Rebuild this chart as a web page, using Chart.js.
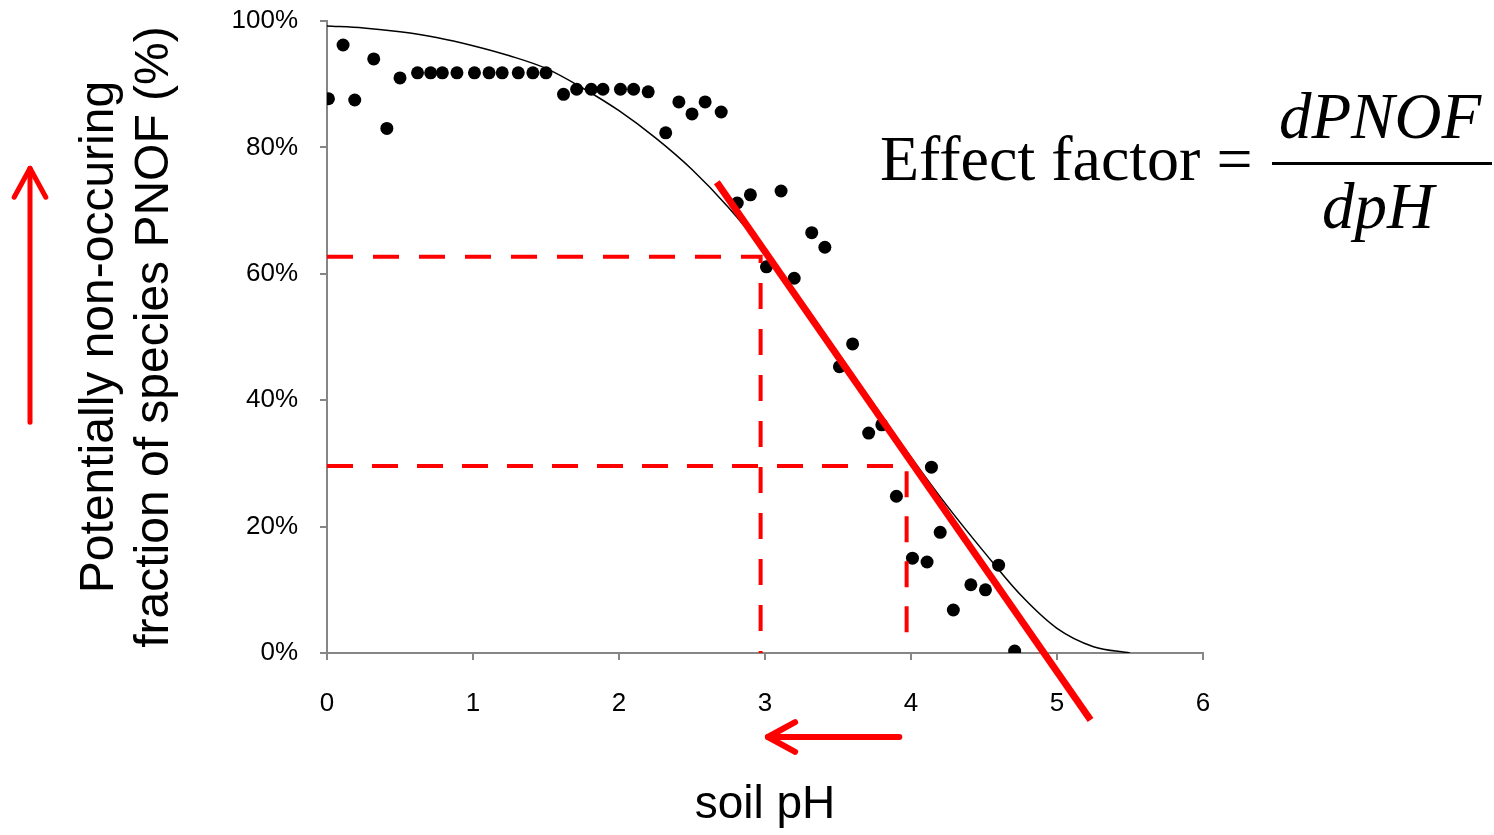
<!DOCTYPE html>
<html lang="en">
<head>
  <meta charset="UTF-8" />
  <script src="https://cdn.jsdelivr.net/npm/chart.js"></script>
  <title>PNOF vs soil pH</title>
  <style>
    html, body { margin: 0; padding: 0; background: #fff; }
  </style>
</head>
<body>
  <canvas id="grafico" width="1494" height="835"></canvas>
  <script>
    // observed points: soil pH vs PNOF (%)
    const obsPH = [0.01, 0.11, 0.19, 0.32, 0.41, 0.50, 0.62, 0.71, 0.79, 0.89, 1.01, 1.11, 1.20, 1.31, 1.41, 1.50,
      1.62, 1.71, 1.81, 1.89, 2.01, 2.10, 2.20, 2.32, 2.41, 2.50, 2.59, 2.70,
      2.81, 2.90, 3.01, 3.11, 3.20, 3.32, 3.41, 3.51, 3.60, 3.71, 3.80, 3.90, 4.01, 4.11, 4.14, 4.20, 4.29, 4.41, 4.51, 4.60, 4.71];
    const obsPNOF = [87.7, 96.2, 87.5, 94.0, 83.0, 91.0, 91.8, 91.8, 91.8, 91.8, 91.8, 91.8, 91.8, 91.8, 91.8, 91.8,
      88.4, 89.2, 89.2, 89.2, 89.2, 89.2, 88.8, 82.3, 87.2, 85.3, 87.2, 85.6,
      71.2, 72.5, 61.1, 73.1, 59.3, 66.5, 64.2, 45.3, 48.9, 34.8, 36.1, 24.8, 15.0, 14.4, 29.4, 19.1, 6.8, 10.8, 10.0, 13.9, 0.3];

    // fitted curve
    const fitPH = [0, 0.25, 0.5, 0.75, 1.0, 1.25, 1.5, 1.75, 2.0, 2.25, 2.5, 2.75, 3.0, 3.25, 3.5, 3.75, 4.0, 4.25, 4.5, 4.75, 5.0, 5.25, 5.5];
    const fitPNOF = [99.2, 98.9, 98.3, 97.4, 96.1, 94.5, 92.5, 89.4, 85.8, 81.5, 76.5, 70.5, 63.5, 55.8, 47.5, 39.2, 31.0, 23.2, 16.0, 9.2, 3.9, 1.0, 0.0];

    // tangent (effect factor)
    const slopePH = [2.67, 5.23];
    const slopePNOF = [74.5, -10.6];

    // dashed guides
    const guidePH = [2.97, 3.97];
    const guidePNOF = [62.7, 29.6];

    const gris = '#868686';
    const rojo = '#ff0000';

    function puntos(xs, ys) {
      return xs.map((x, i) => ({ x: x, y: ys[i] }));
    }

    function flecha(ctx, x1, y1, x2, y2, ancho, brazo) {
      const ang = Math.atan2(y2 - y1, x2 - x1);
      ctx.save();
      ctx.strokeStyle = rojo;
      ctx.lineWidth = ancho;
      ctx.lineCap = 'round';
      ctx.lineJoin = 'round';
      ctx.beginPath();
      ctx.moveTo(x1, y1);
      ctx.lineTo(x2, y2);
      ctx.stroke();
      ctx.beginPath();
      ctx.moveTo(x2 - brazo * Math.cos(ang - 0.5), y2 - brazo * Math.sin(ang - 0.5));
      ctx.lineTo(x2, y2);
      ctx.lineTo(x2 - brazo * Math.cos(ang + 0.5), y2 - brazo * Math.sin(ang + 0.5));
      ctx.stroke();
      ctx.restore();
    }

    const extras = {
      id: 'extras',
      afterDraw(chart) {
        const ctx = chart.ctx;
        const xs = chart.scales.x;
        const ys = chart.scales.y;
        // arrows
        flecha(ctx, 30, ys.getPixelForValue(36.5), 30, ys.getPixelForValue(76.7), 5, 33);
        const ya = chart.chartArea.bottom + 84;
        flecha(ctx, xs.getPixelForValue(3.92), ya, xs.getPixelForValue(3.02), ya, 6, 31);

        // formula
        ctx.save();
        ctx.fillStyle = '#000';
        ctx.textBaseline = 'alphabetic';
        ctx.font = '64px "Liberation Serif"';
        ctx.textAlign = 'left';
        ctx.fillText('Effect factor =', 880, 180);
        ctx.font = 'italic 65px "Liberation Serif"';
        ctx.textAlign = 'center';
        ctx.fillText('dPNOF', 1380, 138);
        ctx.fillText('dpH', 1378, 228);
        ctx.fillRect(1272, 162, 220, 3);
        ctx.restore();
      }
    };

    const ctx = document.getElementById('grafico').getContext('2d');
    new Chart(ctx, {
      type: 'scatter',
      data: {
        datasets: [
          {
            data: puntos(slopePH, slopePNOF),
            showLine: true,
            borderColor: rojo,
            borderWidth: 7,
            pointRadius: 0,
            clip: false
          },
          {
            data: [{ x: 0, y: guidePNOF[0] }, { x: guidePH[0], y: guidePNOF[0] }, { x: guidePH[0], y: 0 }],
            showLine: true,
            borderColor: rojo,
            borderWidth: 4,
            borderDash: [26, 20],
            pointRadius: 0
          },
          {
            data: [{ x: 0, y: guidePNOF[1] }, { x: guidePH[1], y: guidePNOF[1] }, { x: guidePH[1], y: 3.3 }],
            showLine: true,
            borderColor: rojo,
            borderWidth: 4,
            borderDash: [26, 19],
            pointRadius: 0
          },
          {
            data: puntos(obsPH, obsPNOF),
            pointRadius: 6.5,
            backgroundColor: '#000',
            borderWidth: 0
          },
          {
            data: puntos(fitPH, fitPNOF),
            showLine: true,
            borderColor: '#000',
            borderWidth: 1.5,
            pointRadius: 0,
            cubicInterpolationMode: 'monotone'
          }
        ]
      },
      options: {
        responsive: false,
        animation: false,
        devicePixelRatio: 1,
        layout: { padding: { top: 21, right: 291, left: 0, bottom: 0 } },
        plugins: { legend: { display: false }, tooltip: { enabled: false } },
        scales: {
          x: {
            type: 'linear',
            min: 0,
            max: 6,
            afterFit(scale) { scale.height = 182; scale.paddingLeft = 0; scale.paddingRight = 0; },
            ticks: { stepSize: 1, color: '#000', padding: 28, font: { family: 'Liberation Sans', size: 26 } },
            grid: { drawOnChartArea: false, tickLength: 7, color: gris, lineWidth: 2 },
            border: { color: gris, width: 2 },
            title: {
              display: true,
              text: 'soil pH',
              color: '#000',
              font: { family: 'Liberation Sans', size: 46, lineHeight: 1.2 },
              padding: { top: 0, bottom: 2 }
            }
          },
          y: {
            min: 0,
            max: 100,
            afterFit(scale) { scale.width = 327; scale.paddingTop = 0; scale.paddingBottom = 0; },
            ticks: { stepSize: 20, color: '#000', padding: 22, font: { family: 'Liberation Sans', size: 26 },
              callback: v => v + '%' },
            grid: { drawOnChartArea: false, tickLength: 7, color: gris, lineWidth: 2 },
            border: { color: gris, width: 2 },
            title: {
              display: true,
              text: ['Potentially non-occuring', 'fraction of species PNOF (%)'],
              color: '#000',
              font: { family: 'Liberation Sans', size: 48, lineHeight: 1.15 },
              padding: { top: 72, bottom: 0 }
            }
          }
        }
      },
      plugins: [extras]
    });
  </script>
</body>
</html>
